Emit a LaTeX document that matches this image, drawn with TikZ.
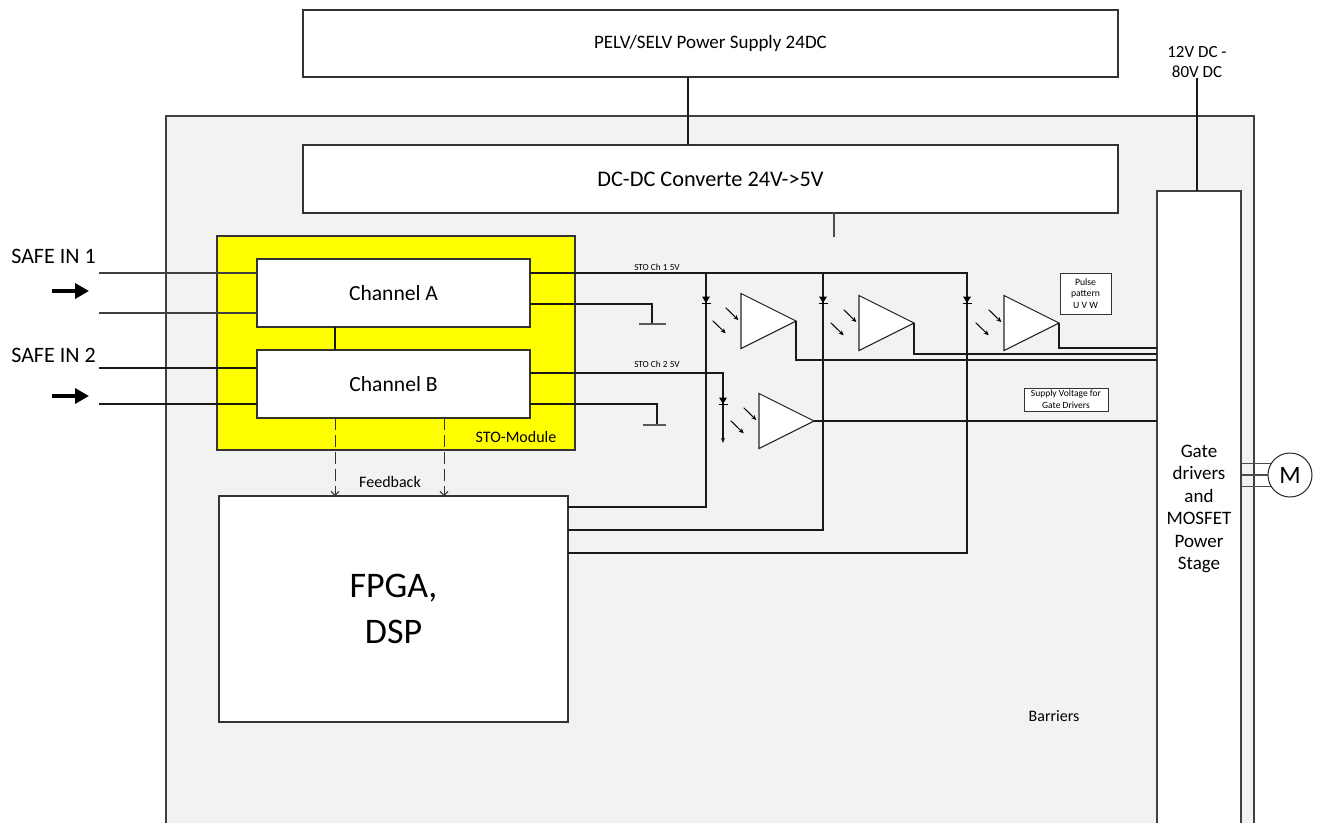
\documentclass[tikz,border=0pt]{standalone}
\usepackage{fontspec}
\setmainfont{Carlito}
\usetikzlibrary{arrows.meta,calc}
\definecolor{bg}{HTML}{F2F2F2}
\definecolor{sty}{HTML}{FFFF00}
\newcommand{\fz}[2]{\fontsize{#1pt}{#2pt}\selectfont}
\tikzset{
  box/.style={draw=black!80,line width=1.1pt,fill=white,inner sep=0pt,outer sep=0pt,align=center,text=black},
  wire/.style={draw=black!90,line width=1.1pt},
  txt/.style={inner sep=0pt,outer sep=0pt,align=center,text=black},
  gnd/.style={draw=black!65,line width=1.8pt},
  fb/.style={draw=black!80,line width=1pt,dash pattern=on 12pt off 5pt,-{Straight Barb[length=4pt,width=8pt]}},
  bigarrow/.style={draw=black,line width=4pt,-{Triangle[length=14pt,width=15pt]}},
  light/.style={draw=black,line width=1pt,-{Stealth[length=5pt,width=4.5pt]}},
  diode/.pic={\fill[black] (-4,-3.5) -- (4,-3.5) -- (0,3) -- cycle; \draw[line width=1pt] (-4.5,3) -- (4.5,3);},
  amp/.pic={\draw[draw=black!85,line width=1.1pt,fill=white,line join=miter] (0,0) -- (-55,-27.5) -- (-55,27.5) -- cycle;
    \draw[light] (-70.3,-13.3) -- (-57.7,-1);
    \draw[light] (-83.3,-0.3) -- (-70.3,12.3);}
}
\begin{document}
\begin{tikzpicture}[x=1pt,y=-1pt]
\useasboundingbox (0,0) rectangle (1319,823);
\fill[white] (0,0) rectangle (1319,823);

% outer housing
\node[fill=bg,inner sep=0,outer sep=0,minimum width=1088pt,minimum height=707pt,anchor=north west] (outer) at (166,116) {};
\draw[wire,draw=black!75] (outer.south west) |- (outer.north east) -- (outer.south east);

% power supplies
\node[box,minimum width=815pt,minimum height=67pt,font=\fz{19}{23}] (pelv) at (710.5,43.5) {PELV/SELV Power Supply 24DC};
\node[box,minimum width=815pt,minimum height=68pt,font=\fz{22.3}{27}] (dcdc) at (710.5,179) {DC-DC Converte 24V->5V};
\coordinate (px) at (688,0);
\draw[wire] (pelv.south -| px) -- (dcdc.north -| px);
\coordinate (stub) at (834,237);
\draw[wire,draw=black!70] (dcdc.south -| stub) -- (stub);

% gate drivers
\node[txt,font=\fz{17}{20.5}] (v80) at (1197,62) {12V DC -\\80V DC};
\node[fill=white,inner sep=0,outer sep=0,minimum width=84pt,minimum height=632pt,anchor=north west] (gate) at (1157,191) {};
\draw[wire,draw=black!75] (gate.south west) |- (gate.north east) -- (gate.south east);
\draw[wire] (v80.south) -- (v80.south |- gate.north);
\node[txt,font=\fz{19}{22.5}] (gatetxt) at (1199,509) {Gate\\drivers\\and\\MOSFET\\Power\\Stage};

% motor
\node[circle,draw=black!85,line width=1pt,fill=white,minimum size=44pt,inner sep=0,font=\fz{25}{30}] (motor) at (1290,475) {M};
\foreach \a in {150,180,210} \draw[wire,draw=black!70] (motor.\a) -- (motor.\a -| gate.east);

% STO module
\node[fill=sty,draw=black!80,line width=1.1pt,inner sep=0,outer sep=0,minimum width=358pt,minimum height=214pt] (sto) at (396,343) {};
\node[txt,font=\fz{16}{19}] (stolbl) at (516,437) {STO-Module};
\node[box,minimum width=273pt,minimum height=68pt,font=\fz{21.6}{26}] (chA) at (393.5,293) {Channel A};
\node[box,minimum width=273pt,minimum height=68pt,font=\fz{21.6}{26}] (chB) at (393.5,384) {Channel B};
\node[box,minimum width=349pt,minimum height=226pt,font=\fz{36}{46}] (fpga) at (393.5,609) {FPGA,\\DSP};

% safe inputs
\node[txt,font=\fz{22}{26}] (in1) at (53.5,256) {SAFE IN 1};
\node[txt,font=\fz{22}{26}] (in2) at (53.5,355) {SAFE IN 2};
\coordinate (s1a) at (99,273); \coordinate (s1b) at (99,313);
\coordinate (s2a) at (99,368); \coordinate (s2b) at (99,404);
\foreach \c in {s1a,s1b} \draw[wire,draw=black!75] (\c) -- (\c -| chA.west);
\foreach \c in {s2a,s2b} \draw[wire] (\c) -- (\c -| chB.west);
\coordinate (a1s) at (52,291); \coordinate (a1e) at (89,291);
\coordinate (a2s) at (52,396); \coordinate (a2e) at (89,396);
\draw[bigarrow] (a1s) -- (a1e);
\draw[bigarrow] (a2s) -- (a2e);

% link and feedback
\coordinate (fb1) at (335,0); \coordinate (fb2) at (444,0);
\draw[wire] (chA.south -| fb1) -- (chB.north -| fb1);
\draw[fb] (chB.south -| fb1) -- (fpga.north -| fb1);
\draw[fb] (chB.south -| fb2) -- (fpga.north -| fb2);
\node[txt,font=\fz{16}{19}] (fbl) at (390,482) {Feedback};

% grounds
\coordinate (g1) at (652,324); \coordinate (g1y) at (0,304);
\draw[wire] (chA.east |- g1y) -| (g1);
\draw[gnd] ($(g1)+(-13,0)$) -- ($(g1)+(14,0)$);
\coordinate (g2) at (657,425); \coordinate (g2y) at (0,404);
\draw[wire] (chB.east |- g2y) -| (g2);
\draw[gnd] ($(g2)+(-14,0)$) -- ($(g2)+(9,0)$);

% STO Ch1 bus
\coordinate (j1) at (706,273); \coordinate (j2) at (823,273); \coordinate (j3) at (967,273);
\coordinate (f1) at (0,507); \coordinate (f2) at (0,530); \coordinate (f3) at (0,553);
\draw[wire] (chA.east |- j1) -- (j3) |- (fpga.east |- f3);
\draw[wire] (j1) |- (fpga.east |- f1);
\draw[wire] (j2) |- (fpga.east |- f2);
\node[txt,font=\fz{9.3}{11}] (ch1l) at (657,267) {STO Ch 1 5V};

% STO Ch2
\coordinate (k1) at (723,443); \coordinate (k1y) at (0,373);
\draw[wire,-{Stealth[length=5pt,width=4pt]}] (chB.east |- k1y) -| (k1);
\node[txt,font=\fz{9.3}{11}] (ch2l) at (657,364) {STO Ch 2 5V};

% diodes
\pic at (706,300) {diode};
\pic at (823,300) {diode};
\pic at (967,300) {diode};
\pic at (723,401) {diode};

% optocoupler amplifiers
\coordinate (amp1) at (796,321);
\coordinate (amp2) at (914,323);
\coordinate (amp3) at (1059,323);
\coordinate (amp4) at (814,421);
\pic at (amp1) {amp};
\pic at (amp2) {amp};
\pic at (amp3) {amp};
\pic at (amp4) {amp};
\coordinate (o1) at (0,360); \coordinate (o2) at (0,354); \coordinate (o3) at (0,348);
\draw[wire] (amp1) |- (gate.west |- o1);
\draw[wire] (amp2) |- (gate.west |- o2);
\draw[wire] (amp3) |- (gate.west |- o3);
\draw[wire] (amp4) -- (amp4 -| gate.west);

% labels
\node[box,line width=1pt,minimum width=51pt,minimum height=41pt,font=\fz{9.7}{11.8}] (pulse) at (1085.5,293.5) {Pulse\\pattern\\U V W};
\node[box,line width=1pt,minimum width=84pt,minimum height=23pt,font=\fz{9.5}{12}] (supply) at (1066,399.5) {Supply Voltage for\\Gate Drivers};
\node[txt,font=\fz{16}{19}] (barr) at (1054,716) {Barriers};
\end{tikzpicture}
\end{document}
